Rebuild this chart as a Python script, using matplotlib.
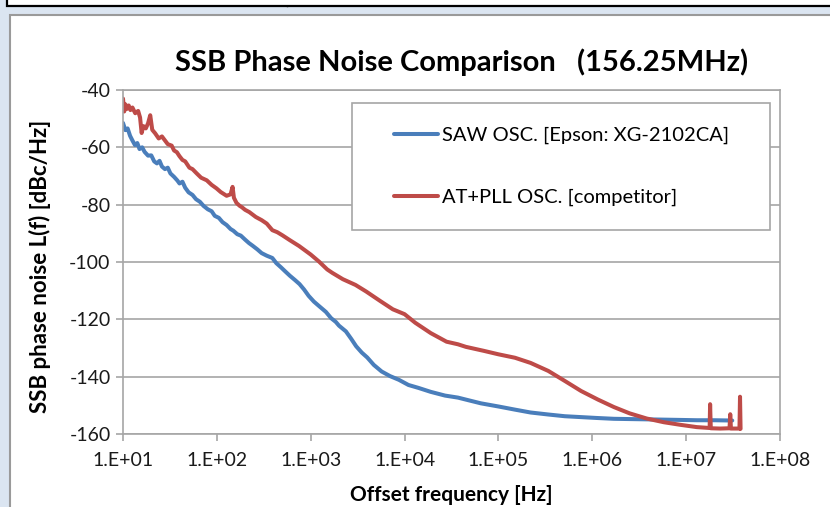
import matplotlib
matplotlib.use("Agg")
import matplotlib.pyplot as plt
from matplotlib.patches import Rectangle
from matplotlib.lines import Line2D
from matplotlib.ticker import FixedLocator, NullLocator

plt.rcParams["font.family"] = ["Lato", "DejaVu Sans"]
plt.rcParams["axes.unicode_minus"] = False

title = "SSB Phase Noise Comparison   (156.25MHz)"
x_label = "Offset frequency [Hz]"
y_label = "SSB phase noise L(f) [dBc/Hz]"
series_names = ["SAW OSC. [Epson: XG-2102CA]", "AT+PLL OSC. [competitor]"]

x_ticks = [1e1, 1e2, 1e3, 1e4, 1e5, 1e6, 1e7, 1e8]
x_tick_labels = ["1.E+01", "1.E+02", "1.E+03", "1.E+04", "1.E+05", "1.E+06", "1.E+07", "1.E+08"]
y_ticks = [-160, -140, -120, -100, -80, -60, -40]

# SAW oscillator (blue), offset frequency in Hz and L(f) in dBc/Hz
saw_freq = [10, 10.6, 11.2, 11.9, 12.6, 13.4, 14.2, 15.0, 16.0, 17.0, 18.5, 20.0, 21.5, 23.0,
            24.5, 26.0, 28.0, 30.0, 32.0, 35.0, 38.0, 40.0, 43.0, 46.0, 50.0, 55.0, 60.0, 66.0,
            72.0, 80.0, 88.0, 95.0, 105, 115, 127, 140, 150, 165, 180, 200, 220, 240, 270, 300,
            340, 390, 430, 480, 540, 600, 680, 760, 850, 950, 1080, 1250, 1450, 1650, 1850,
            2000, 2370, 2700, 3050, 3500, 4000, 4700, 5700, 7000, 8700, 11000, 14000, 19000,
            27000, 37000, 45000, 65000, 100000, 150000, 220000, 340000, 510000, 750000,
            1100000, 1700000, 2600000, 4000000, 6000000, 9000000, 13000000, 20000000, 31000000]
saw_noise = [-51.5, -54.0, -53.4, -56.0, -57.6, -59.2, -58.5, -60.6, -60.0, -61.6, -62.9, -62.8,
             -64.9, -65.6, -64.7, -66.7, -67.6, -67.1, -69.1, -70.3, -71.6, -72.6, -72.0, -74.1,
             -75.7, -76.6, -78.1, -79.0, -80.4, -81.6, -82.3, -83.9, -84.6, -86.1, -87.1, -88.5,
             -89.1, -90.3, -90.8, -92.2, -93.4, -94.3, -95.6, -96.9, -97.8, -98.6, -100.4,
             -101.8, -103.4, -104.8, -106.3, -107.7, -109.6, -111.8, -113.8, -115.6, -117.4,
             -119.6, -120.9, -122.2, -124.2, -126.8, -129.4, -131.6, -133.3, -135.9, -138.2,
             -139.8, -141.1, -142.9, -143.9, -145.3, -146.6, -147.3, -148.0, -149.3, -150.4,
             -151.5, -152.5, -153.2, -153.8, -154.1, -154.4, -154.7, -154.8, -154.9, -155.0,
             -155.1, -155.2, -155.2, -155.3]

# AT+PLL oscillator (red)
pll_freq = [10, 10.3, 10.6, 11.0, 11.5, 12.0, 12.6, 13.5, 14.5, 15.2, 15.8, 16.5, 17.5, 18.5,
            19.5, 20.5, 22.0, 24.0, 26.0, 28.0, 30.0, 33.0, 35.0, 37.5, 40.0, 43.0, 46.0, 51.0,
            55.0, 61.0, 68.0, 78.0, 88.0, 99.0, 110, 127, 140, 147, 152, 162, 175, 185, 200,
            222, 260, 300, 340, 390, 440, 500, 600, 750, 900, 1000, 1230, 1500, 1700, 2200,
            3000, 3900, 5500, 7500, 10000, 13000, 19000, 28000, 37000, 45000, 70000, 100000,
            150000, 220000, 340000, 510000, 760000, 1150000, 1700000, 2500000, 3800000,
            5800000, 8700000, 13000000, 17800000, 18000000, 18300000, 23000000, 29000000,
            29500000, 30000000, 37000000, 37500000, 38000000]
pll_noise = [-43.0, -47.5, -45.0, -46.6, -45.4, -47.0, -46.1, -48.1, -47.3, -49.6, -55.0, -52.6,
             -53.4, -51.6, -48.8, -53.9, -55.1, -56.9, -56.2, -57.6, -58.9, -59.4, -61.1, -61.7,
             -63.1, -64.4, -64.9, -67.1, -67.6, -69.1, -70.6, -71.5, -73.1, -74.3, -75.6, -76.9,
             -76.4, -73.8, -77.6, -79.4, -80.4, -80.9, -81.8, -82.6, -84.3, -85.4, -86.6, -88.9,
             -89.6, -90.7, -92.4, -94.4, -96.3, -97.4, -99.9, -102.6, -103.8, -106.0, -108.0,
             -110.3, -113.6, -116.5, -118.2, -121.2, -124.8, -127.8, -128.7, -129.6, -131.0,
             -132.2, -133.4, -135.2, -138.0, -141.5, -145.0, -148.0, -150.6, -152.8, -154.6,
             -155.9, -156.8, -157.6, -157.9, -149.6, -158.0, -158.1, -158.0, -153.1, -158.1,
             -158.1, -147.0, -158.2]

W, H = 830, 507
blue = "#4a7ebb"
red = "#be4b48"
grey = "#a6a6a6"

fig = plt.figure(figsize=(W / 100, H / 100), dpi=100, facecolor="#dbe5f1")

# page background: table cell on top and the white chart area (kept behind the axes)
fig.patches.append(Rectangle((7 / W, 1 - 5.5 / H), 1, 0.1, transform=fig.transFigure,
                             facecolor="white", edgecolor="black", lw=1.6, zorder=-2))
fig.lines.append(Line2D([287 / W, 287 / W], [1 - 5.5 / H, 1], transform=fig.transFigure,
                        color="black", lw=1.0, zorder=-2))
fig.patches.append(Rectangle((9.5 / W, -0.05), 1, 1.05 - 14.5 / H, transform=fig.transFigure,
                             facecolor="white", edgecolor="#9a9a9a", lw=1.5, zorder=-2))

ax = fig.add_axes([123 / W, 1 - 434 / H, (780 - 123) / W, (434 - 90) / H])
ax.set_xscale("log")
ax.plot(saw_freq, saw_noise, color=blue, lw=2.9, label=series_names[0],
        solid_joinstyle="round", solid_capstyle="round")
ax.plot(pll_freq, pll_noise, color=red, lw=2.9, label=series_names[1],
        solid_joinstyle="round", solid_capstyle="round")
ax.set_xlim(1e1, 1e8)
ax.set_ylim(-160, -40)

ax.xaxis.set_major_locator(FixedLocator(x_ticks))
ax.xaxis.set_minor_locator(NullLocator())
ax.set_xticklabels(x_tick_labels)
ax.set_yticks(y_ticks)
ax.yaxis.grid(True, color=grey, lw=1.2)
ax.set_axisbelow(True)
for side in ["left", "right", "bottom", "top"]:
    ax.spines[side].set_color(grey)
    ax.spines[side].set_linewidth(1.2)
ax.tick_params(direction="out", length=5, width=1.2, color=grey, labelsize=14,
               labelcolor="#1a1a1a")
ax.tick_params(axis="x", pad=8)
ax.tick_params(axis="y", pad=4)

fig.text(462 / W, 1 - 62 / H, title, ha="center", va="center", fontsize=21, fontweight="bold")
fig.text(451 / W, 1 - 495 / H, x_label, ha="center", va="center", fontsize=15, fontweight="bold")
fig.text(40 / W, 1 - 266 / H, y_label, ha="center", va="center", rotation=90, fontsize=16,
         fontweight="bold")

# legend box
ax.add_patch(Rectangle((352 / W, 1 - 230 / H), 418 / W, 127 / H, transform=fig.transFigure,
                       facecolor="white", edgecolor=grey, lw=1.2, zorder=4))
leg = ax.legend(loc="upper left", bbox_to_anchor=(384 / W, 1 - 117 / H),
                bbox_transform=fig.transFigure, frameon=False, fontsize=14.5, borderpad=0,
                handlelength=2.2, handletextpad=0.2, labelspacing=2.2)
leg.set_zorder(5)

fig.savefig("out.png", dpi=100, facecolor=fig.get_facecolor())
